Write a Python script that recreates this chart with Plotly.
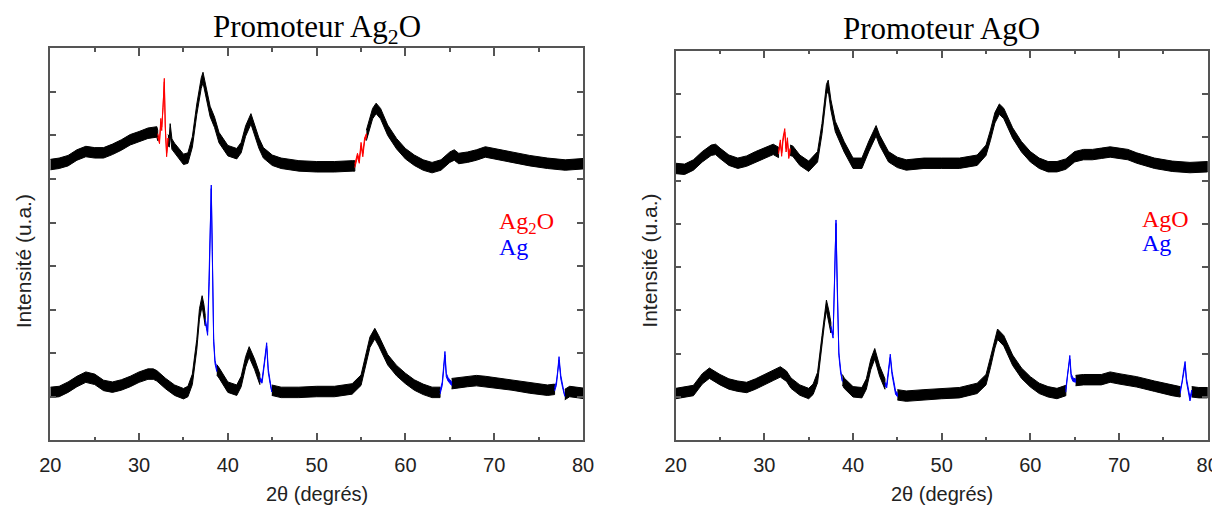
import plotly.graph_objects as go

# ---------------- data (2θ in degrees, intensity u.a.) ----------------
# Left panel: Promoteur Ag2O, upper pattern
LT_x = [20, 21, 22, 23, 24, 25, 26, 27, 28, 29, 30, 31, 32, 32.1,
        32.3, 32.45, 32.55, 32.7, 32.84, 32.95, 33.1, 33.25,
        33.4, 33.5, 33.7, 34, 35, 35.5, 36, 36.5, 37.0, 37.2, 37.5, 38, 38.5, 39, 40, 41, 41.5,
        42, 42.6, 43, 43.5, 44, 45, 46, 48, 50, 52, 54, 54.3,
        54.6, 54.8, 55.0, 55.2, 55.4, 55.6,
        56.0, 56.3, 56.7, 57.2, 58, 59, 60, 61, 62, 63, 64, 65, 65.5, 66, 67, 68, 69, 70,
        71, 72, 74, 76, 78, 80]
LT_y = [6.33, 6.36, 6.42, 6.55, 6.63, 6.6, 6.6, 6.68, 6.78, 6.9, 6.97, 7.05, 7.08, 7.0,
        6.85, 7.35, 7.15, 7.6, 8.27, 7.2, 6.55, 6.9,
        6.85, 7.15, 6.8, 6.7, 6.45, 6.48, 6.85, 7.6, 8.2, 8.33, 8.05, 7.55, 7.3, 6.95, 6.65, 6.58, 6.72,
        7.1, 7.38, 7.12, 6.82, 6.6, 6.43, 6.36, 6.3, 6.28, 6.28, 6.3, 6.3,
        6.55, 6.4, 6.8, 6.55, 6.9, 7.0,
        7.3, 7.5, 7.62, 7.5, 7.12, 6.81, 6.58, 6.43, 6.32, 6.26, 6.32, 6.5, 6.55, 6.47, 6.5, 6.55, 6.62, 6.58,
        6.55, 6.5, 6.42, 6.36, 6.32, 6.35]
LT_phase = [(32.1, 33.25), (54.3, 55.6)]          # Ag2O (red)

# Left panel: lower pattern
LB_x = [20, 21, 22, 23, 24, 25, 26, 27, 28, 29, 30, 31, 31.6, 32, 33, 34, 35, 35.5, 36, 36.5, 36.8,
        37.1, 37.3, 37.45,
        37.6, 37.72, 37.9, 38.0, 38.13, 38.25, 38.4, 38.55,
        38.75, 39, 40, 41, 41.5, 42, 42.4, 43, 43.6,
        43.85, 44.1, 44.37, 44.55, 44.75,
        44.95, 46, 48, 50, 52, 54, 55, 55.5, 56, 56.55, 57, 58, 59, 60, 61, 62, 63, 63.9,
        64.15, 64.3, 64.45, 64.6, 64.8, 65.0,
        65.2, 66, 67, 68, 69, 70, 72, 74, 76, 76.8,
        77.0, 77.15, 77.3, 77.5, 77.7,
        77.95, 78.5, 80]
LB_y = [1.1, 1.12, 1.22, 1.35, 1.45, 1.4, 1.26, 1.22, 1.27, 1.35, 1.45, 1.52, 1.52, 1.48, 1.3, 1.15, 1.07,
        1.12, 1.4, 2.2, 2.9, 3.2, 3.0, 2.75,
        2.6, 2.45, 3.6, 4.8, 5.82, 4.3, 2.3, 1.8,
        1.62, 1.55, 1.22, 1.15, 1.35, 1.8, 2.03, 1.75, 1.4,
        1.35, 1.75, 2.2, 1.6, 1.35,
        1.15, 1.1, 1.1, 1.12, 1.12, 1.18, 1.38, 1.8, 2.25, 2.45, 2.28, 1.85, 1.6, 1.42, 1.27, 1.17, 1.1, 1.1,
        1.3, 1.65, 2.0, 1.5, 1.4, 1.35,
        1.3, 1.32, 1.35, 1.37, 1.35, 1.32, 1.27, 1.2, 1.15, 1.17,
        1.3, 1.55, 1.88, 1.45, 1.25,
        1.05, 1.12, 1.08]
LB_phase = [(37.45, 38.75), (43.6, 44.95), (63.9, 65.2), (76.8, 77.95)]   # Ag (blue)

# Right panel: Promoteur AgO, upper pattern
RT_x = [20, 21, 22, 23, 24, 24.5, 25, 26, 27, 28, 29, 30, 31, 31.6,
        31.8, 31.95, 32.1, 32.3, 32.45, 32.6, 32.75,
        32.9, 33.2, 34, 35, 36, 36.5, 37.0, 37.2, 37.5, 38, 39, 40, 41, 41.8, 42.6, 43, 44, 45,
        46, 48, 50, 52, 54, 55, 55.5, 56, 56.5, 57, 58, 59, 60, 61, 62, 63, 64, 65, 66, 67, 68,
        69, 70, 71, 72, 74, 76, 78, 80]
RT_y = [6.28, 6.26, 6.36, 6.55, 6.7, 6.72, 6.63, 6.47, 6.4, 6.45, 6.55, 6.63, 6.72, 6.65,
        6.9, 6.6, 6.95, 7.16, 6.7, 6.95, 6.55,
        6.7, 6.68, 6.47, 6.33, 6.55, 7.2, 8.1, 8.2, 7.75, 7.25, 6.78, 6.4, 6.4, 6.8, 7.15, 6.93, 6.55, 6.42,
        6.36, 6.4, 6.4, 6.4, 6.47, 6.7, 7.05, 7.45, 7.65, 7.55, 7.1, 6.78, 6.55, 6.4, 6.32, 6.32, 6.38, 6.55,
        6.6, 6.6, 6.63, 6.66, 6.63, 6.6, 6.52, 6.4, 6.33, 6.3, 6.32]
RT_phase = [(31.6, 32.9)]                             # AgO (red)

# Right panel: lower pattern
RB_x = [20, 21, 22, 23, 23.8, 25, 26, 27, 28, 29, 30, 31, 31.8, 32.5, 33, 34, 35, 35.5, 36, 36.5, 36.8,
        37.0, 37.3, 37.5,
        37.65, 37.75, 37.9, 38.0, 38.08, 38.2, 38.4, 38.6,
        38.8, 39, 40, 41, 41.5, 42, 42.45, 43, 43.6,
        43.8, 44.0, 44.2, 44.4, 44.6, 44.8,
        45.0, 46, 48, 50, 52, 54, 55, 55.5, 56, 56.3, 57, 58, 59, 60, 61, 62, 63, 64.0,
        64.2, 64.35, 64.45, 64.6, 64.8,
        65.1, 66, 68, 69, 70, 72, 74, 76, 76.9,
        77.1, 77.3, 77.45, 77.6, 77.8, 78.0,
        78.2, 79, 80]
RB_y = [1.08, 1.12, 1.15, 1.42, 1.55, 1.4, 1.3, 1.25, 1.22, 1.3, 1.4, 1.5, 1.58, 1.48, 1.32, 1.16, 1.08,
        1.18, 1.45, 2.3, 2.85, 3.12, 2.85, 2.6,
        2.5, 2.4, 3.5, 4.5, 5.05, 3.6, 2.0, 1.6,
        1.4, 1.32, 1.12, 1.1, 1.3, 1.75, 2.0, 1.6, 1.3,
        1.25, 1.6, 1.95, 1.55, 1.35, 1.1,
        1.05, 1.02, 1.05, 1.08, 1.1, 1.2, 1.4, 1.8, 2.25, 2.45, 2.3, 1.85, 1.55, 1.35, 1.2, 1.12, 1.08, 1.15,
        1.55, 1.8, 1.92, 1.5, 1.4,
        1.38, 1.4, 1.4, 1.46, 1.42, 1.35, 1.25, 1.15, 1.12,
        1.3, 1.6, 1.78, 1.4, 1.15, 0.95,
        1.12, 1.1, 1.1]
RB_phase = [(37.5, 38.8), (43.6, 45.0), (64.0, 65.1), (76.9, 78.2)]   # Ag (blue)

NOISE_HALF = 0.12        # half-thickness of the noise band (u.a.)
PEAK_NOISE_HALF = 0.04   # coloured (indexed) segments are thinner

TITLES = ["Promoteur Ag<sub>2</sub>O", "Promoteur AgO"]
PHASE_LABELS = [("Ag<sub>2</sub>O", "Ag"), ("AgO", "Ag")]
X_TICKS = [20, 30, 40, 50, 60, 70, 80]
Y_LABEL = "Intensité (u.a.)"
X_LABEL = "2θ (degrés)"

RED = "#ff0000"
BLUE = "#0000ff"
BLACK = "#000000"
AX = "#555555"
SERIF = "Liberation Serif, Times New Roman, serif"
SANS = "Liberation Sans, Arial, sans-serif"

# the page body adds an 8 px margin; the figure is sized so that it fills the window
OFF = 8
W, H = 1220 - OFF, 506 - OFF
# panel boxes in window pixels (left, top, right, bottom)
PANELS = [(50.3, 48.3, 583.0, 440.3), (675.7, 50.7, 1207.7, 440.3)]


def fx(px):
    return (px - OFF) / W


def fy(py):
    return 1 - (py - OFF) / H


def split(xs, ys, ranges):
    """Split a pattern into black segments and coloured (phase) segments."""
    black, cur = [], []
    for x, y in zip(xs, ys):
        inside = any(a < x < b for a, b in ranges)
        if inside:
            if len(cur) > 1:
                black.append(cur)
            cur = []
        else:
            if cur and any(cur[-1][0] <= a and b <= x for a, b in ranges):
                if len(cur) > 1:
                    black.append(cur)
                cur = []
            cur.append((x, y))
    if len(cur) > 1:
        black.append(cur)
    coloured = []
    for a, b in ranges:
        seg = [(x, y) for x, y in zip(xs, ys) if a <= x <= b]
        coloured.append(seg)
    return black, coloured


def band(seg, hw, color, xa, ya):
    xs = [p[0] for p in seg]
    ys = [p[1] for p in seg]
    px = xs + xs[::-1]
    py = [y + hw for y in ys] + [y - hw for y in ys[::-1]]
    return go.Scatter(x=px, y=py, mode="lines", fill="toself", fillcolor=color,
                      line=dict(color=color, width=1), xaxis=xa, yaxis=ya,
                      hoverinfo="skip", showlegend=False)


fig = go.Figure()
datasets = [
    [(LT_x, LT_y, LT_phase, RED), (LB_x, LB_y, LB_phase, BLUE)],
    [(RT_x, RT_y, RT_phase, RED), (RB_x, RB_y, RB_phase, BLUE)],
]
for i, panel in enumerate(datasets):
    xa = "x" if i == 0 else "x2"
    ya = "y" if i == 0 else "y2"
    for xs, ys, ranges, col in panel:
        black, coloured = split(xs, ys, ranges)
        for seg in black:
            fig.add_trace(band(seg, NOISE_HALF, BLACK, xa, ya))
        for seg in coloured:
            fig.add_trace(band(seg, PEAK_NOISE_HALF, col, xa, ya))

for i, (l, t, r, b) in enumerate(PANELS):
    sfx = "" if i == 0 else "2"
    xdom = [fx(l), fx(r)]
    ydom = [fy(b), fy(t)]
    fig.update_layout(**{
        "xaxis" + sfx: dict(domain=xdom, range=[20, 80], anchor="y" + sfx,
                            tickmode="array", tickvals=X_TICKS,
                            ticks="inside", ticklen=8, tickwidth=1.5, tickcolor=AX,
                            minor=dict(ticks="inside", ticklen=4, tickwidth=1.5, tickcolor=AX,
                                       tick0=25, dtick=10, showgrid=False),
                            showline=True, linecolor=AX, linewidth=1.5, mirror="ticks",
                            showgrid=False, zeroline=False, automargin=False,
                            tickfont=dict(family=SANS, size=20, color="#222"),
                            ticklabelstandoff=6),
        "yaxis" + sfx: dict(domain=ydom, range=[0, 9], anchor="x" + sfx,
                            tickmode="linear", tick0=0, dtick=1,
                            ticks="inside", ticklen=6, tickwidth=1.5, tickcolor=AX,
                            showticklabels=False,
                            showline=True, linecolor=AX, linewidth=1.5, mirror="ticks",
                            showgrid=False, zeroline=False, automargin=False),
    })
    cx = (l + r) / 2
    # panel title
    fig.add_annotation(x=fx(cx), y=fy(29), xref="paper", yref="paper",
                       text=TITLES[i], showarrow=False, xanchor="center", yanchor="middle",
                       font=dict(family=SERIF, size=31, color="#000"))
    # x axis title
    fig.add_annotation(x=fx(cx), y=fy(494), xref="paper", yref="paper",
                       text=X_LABEL, showarrow=False, xanchor="center", yanchor="middle",
                       font=dict(family=SANS, size=20, color="#222"))
    # y axis title
    fig.add_annotation(x=fx(l - 27), y=fy(261), xref="paper", yref="paper",
                       text=Y_LABEL, showarrow=False, textangle=-90,
                       xanchor="center", yanchor="middle",
                       font=dict(family=SANS, size=21, color="#222"))
    # phase labels
    lab_x = fx(r - 86) if i == 0 else fx(r - 68)
    lab_y0 = 223 if i == 0 else 219
    fig.add_annotation(x=lab_x, y=fy(lab_y0), xref="paper", yref="paper",
                       text=PHASE_LABELS[i][0], showarrow=False, xanchor="left", yanchor="middle",
                       font=dict(family=SERIF, size=24, color=RED))
    fig.add_annotation(x=lab_x, y=fy(lab_y0 + 24), xref="paper", yref="paper",
                       text=PHASE_LABELS[i][1], showarrow=False, xanchor="left", yanchor="middle",
                       font=dict(family=SERIF, size=24, color=BLUE))

fig.update_layout(width=W, height=H, margin=dict(l=0, r=0, t=0, b=0),
                  paper_bgcolor="white", plot_bgcolor="white", showlegend=False)

fig.write_html("out.html")
